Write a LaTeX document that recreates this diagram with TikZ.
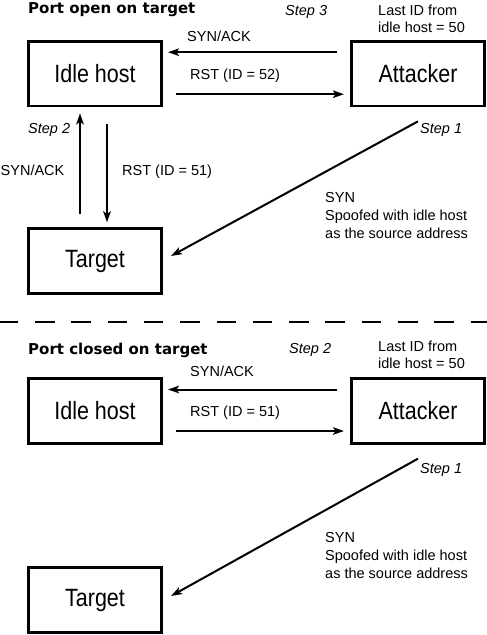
\documentclass[tikz,border=0pt]{standalone}
\usepackage{fontspec}
\setmainfont{Liberation Sans}
\newfontfamily\boxfont[FakeStretch=0.86]{Liberation Sans}
\newfontfamily\headfont{DejaVu Sans}
\usetikzlibrary{arrows.meta}

\tikzset{
	hostbox/.style={draw, line width=2.8pt, minimum width=133.2pt, minimum height=64.5pt, inner sep=0pt, font=\boxfont\fontsize{25}{30}\selectfont},
	msg/.style={line width=2pt, -{Stealth[length=11pt, width=7.5pt, inset=2.5pt]}},
	lbl/.style={anchor=base west, inner sep=0pt, font=\fontsize{14.5}{17.5}\selectfont},
	multilbl/.style={anchor=north west, inner sep=0pt, align=left, font=\fontsize{14.5}{17.8}\selectfont},
	steplbl/.style={lbl, font=\fontsize{14.5}{17.5}\selectfont\itshape},
	headlbl/.style={anchor=base west, inner sep=0pt, font=\headfont\bfseries\fontsize{15}{18}\selectfont},
}

\begin{document}
\begin{tikzpicture}[x=1pt, y=-1pt]
				\useasboundingbox (0,0) rectangle (487,635);
				
				% 1. 上半部分：端口开放
				\node[hostbox] (idleA) at (95,73.7) {Idle host};
				\node[hostbox] (attackerA) at (418,73.7) {Attacker};
				\node[hostbox] (targetA) at (95,261) {Target};
				
				\node[headlbl] (headA) at (28,13.3) {Port open on target};
				\node[steplbl] (stepA3) at (285,15.5) {Step 3};
				\node[multilbl] (lastidA) at (378,4.4) {Last ID from\\idle host = 50};
				\node[lbl] (synackA) at (187,41) {SYN/ACK};
				\node[lbl] (rstA) at (190,79) {RST (ID = 52)};
				\node[steplbl] (stepA2) at (28,133) {Step 2};
				\node[lbl] (synackA2) at (0.5,175) {SYN/ACK};
				\node[lbl] (rstA2) at (122,175) {RST (ID = 51)};
				\node[steplbl] (stepA1) at (420,133) {Step 1};
				\node[multilbl] (spoofA) at (325,192.6) {SYN\\Spoofed with idle host\\as the source address};
				
				\draw[msg, shorten <=13pt, shorten >=5pt] ([yshift=21.5pt]attackerA.west) -- ([yshift=21.5pt]idleA.east);
				\draw[msg, shorten <=13pt, shorten >=6pt] ([yshift=-20.5pt]idleA.east) -- ([yshift=-20.5pt]attackerA.west);
				\draw[msg, shorten <=13pt, shorten >=6pt] ([xshift=-15pt]targetA.north) -- ([xshift=-15pt]idleA.south);
				\draw[msg, shorten <=17pt, shorten >=5pt] ([xshift=12pt]idleA.south) -- ([xshift=12pt]targetA.north);
				\draw[msg] ([yshift=-14pt]attackerA.south) -- ([xshift=8pt, yshift=5pt]targetA.east);
				
				% 2. 分隔虚线
				\draw[line width=2.3pt, dash pattern=on 19.5pt off 16.8pt, dash phase=1.3pt] (0,322) -- (487,322);
				
				% 3. 下半部分：端口关闭
				\node[hostbox] (idleB) at (95,411) {Idle host};
				\node[hostbox] (attackerB) at (418,411) {Attacker};
				\node[hostbox] (targetB) at (95,600) {Target};
				
				\node[headlbl] (headB) at (28,354) {Port closed on target};
				\node[steplbl] (stepB2) at (289,353) {Step 2};
				\node[multilbl] (lastidB) at (378,340.4) {Last ID from\\idle host = 50};
				\node[lbl] (synackB) at (190,376) {SYN/ACK};
				\node[lbl] (rstB) at (190,416) {RST (ID = 51)};
				\node[steplbl] (stepB1) at (420,473) {Step 1};
				\node[multilbl] (spoofB) at (325,532.6) {SYN\\Spoofed with idle host\\as the source address};
				
				\draw[msg, shorten <=13pt, shorten >=5pt] ([yshift=21.5pt]attackerB.west) -- ([yshift=21.5pt]idleB.east);
				\draw[msg, shorten <=13pt, shorten >=6pt] ([yshift=-20pt]idleB.east) -- ([yshift=-20pt]attackerB.west);
				\draw[msg] ([yshift=-14pt]attackerB.south) -- ([xshift=8pt, yshift=4pt]targetB.east);
\end{tikzpicture}
\end{document}
